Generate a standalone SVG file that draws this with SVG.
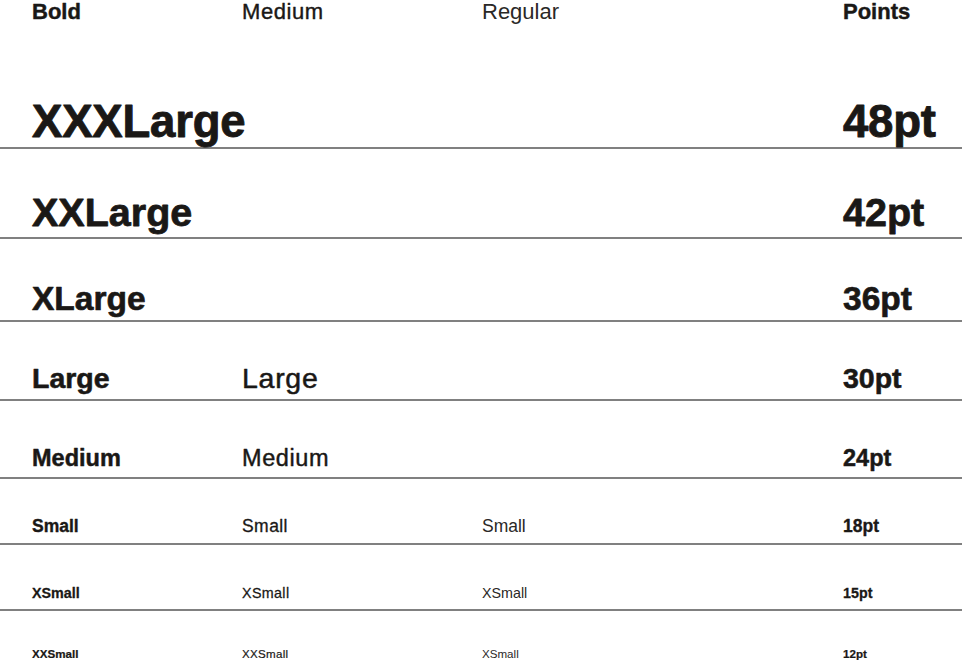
<svg xmlns="http://www.w3.org/2000/svg" width="962" height="661" viewBox="0 0 962 661">
<style>
text{font-family:"Liberation Sans",Arial,Helvetica,sans-serif;fill:#1a1816}
.b{font-weight:700;stroke:#1a1816;stroke-width:0.02em;stroke-linejoin:round}
.m{font-weight:400;letter-spacing:0.025em;stroke:#1a1816;stroke-width:0.018em;stroke-linejoin:round}
.r{font-weight:400;fill:#2a2826}
.rule line{stroke:#808080;stroke-width:2}
</style>
<rect width="962" height="661" fill="#ffffff"/>
<g id="header" font-size="22">
<text class="b" x="32" y="18.5">Bold</text>
<text class="m" x="242" y="18.5">Medium</text>
<text class="r" x="482" y="18.5">Regular</text>
<text class="b" x="843" y="18.5">Points</text>
</g>
<g id="connectors" class="rule">
<line x1="0" y1="148" x2="962" y2="148"/>
<line x1="0" y1="238" x2="962" y2="238"/>
<line x1="0" y1="321" x2="962" y2="321"/>
<line x1="0" y1="400" x2="962" y2="400"/>
<line x1="0" y1="478" x2="962" y2="478"/>
<line x1="0" y1="544" x2="962" y2="544"/>
<line x1="0" y1="610" x2="962" y2="610"/>
</g>
<g id="row-xxxlarge" font-size="45.5">
<text class="b" x="32" y="137" letter-spacing="-0.2">XXXLarge</text>
<text class="b" x="843" y="137" letter-spacing="-0.2">48pt</text>
</g>
<g id="row-xxlarge" font-size="39.5">
<text class="b" x="32" y="226">XXLarge</text>
<text class="b" x="843" y="226">42pt</text>
</g>
<g id="row-xlarge" font-size="33.5">
<text class="b" x="32" y="310">XLarge</text>
<text class="b" x="843" y="310">36pt</text>
</g>
<g id="row-large" font-size="28.5">
<text class="b" x="32" y="388">Large</text>
<text class="m" x="242" y="388">Large</text>
<text class="b" x="843" y="388">30pt</text>
</g>
<g id="row-medium" font-size="23.5">
<text class="b" x="32" y="466">Medium</text>
<text class="m" x="242" y="466">Medium</text>
<text class="b" x="843" y="466">24pt</text>
</g>
<g id="row-small" font-size="17.5">
<text class="b" x="32" y="532">Small</text>
<text class="m" x="242" y="532">Small</text>
<text class="r" x="482" y="532">Small</text>
<text class="b" x="843" y="532">18pt</text>
</g>
<g id="row-xsmall" font-size="14.3">
<text class="b" x="32" y="598">XSmall</text>
<text class="m" x="242" y="598">XSmall</text>
<text class="r" x="482" y="598">XSmall</text>
<text class="b" x="843" y="598">15pt</text>
</g>
<g id="row-xxsmall" font-size="11.6">
<text class="b" x="32" y="658">XXSmall</text>
<text class="m" x="242" y="658">XXSmall</text>
<text class="r" x="482" y="658">XSmall</text>
<text class="b" x="843" y="658">12pt</text>
</g>
</svg>
